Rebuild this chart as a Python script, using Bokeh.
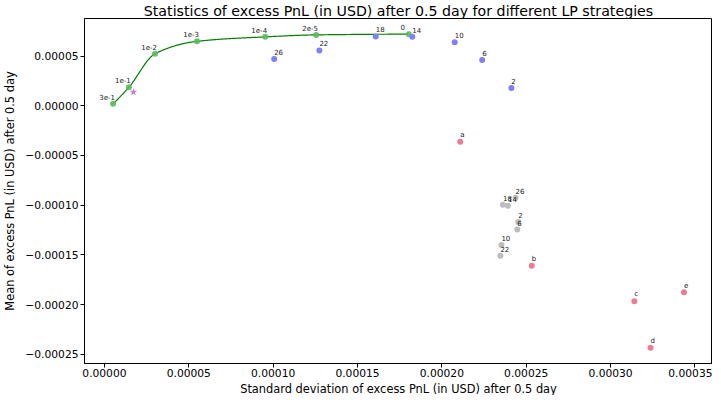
import numpy as np
from bokeh.plotting import figure
from bokeh.models import Range1d, FixedTicker, Title
from bokeh.core.properties import value
from bokeh.embed import file_html
from bokeh.resources import INLINE

# ---------------- data ----------------
green_labels = ["3e-1", "1e-1", "1e-2", "1e-3", "1e-4", "2e-5", "0"]
green_std = [5.1e-6, 1.45e-5, 3.0e-5, 5.49e-5, 9.53e-5, 1.255e-4, 1.804e-4]
green_mean = [2.0e-6, 1.87e-5, 5.24e-5, 6.49e-5, 6.94e-5, 7.14e-5, 7.21e-5]

star_std = [1.72e-5]
star_mean = [1.38e-5]

blue_labels = ["26", "22", "18", "14", "10", "6", "2"]
blue_std = [1.006e-4, 1.274e-4, 1.608e-4, 1.825e-4, 2.076e-4, 2.239e-4, 2.412e-4]
blue_mean = [4.72e-5, 5.57e-5, 6.98e-5, 6.94e-5, 6.39e-5, 4.62e-5, 1.8e-5]

gray_labels = ["18", "14", "26", "2", "6", "10", "22"]
gray_std = [2.362e-4, 2.392e-4, 2.437e-4, 2.453e-4, 2.447e-4, 2.353e-4, 2.347e-4]
gray_mean = [-9.97e-5, -1.007e-4, -9.25e-5, -1.17e-4, -1.246e-4, -1.40e-4, -1.509e-4]

red_labels = ["a", "b", "c", "d", "e"]
red_std = [2.109e-4, 2.533e-4, 3.141e-4, 3.237e-4, 3.435e-4]
red_mean = [-3.61e-5, -1.61e-4, -1.967e-4, -2.436e-4, -1.876e-4]

x_ticks = [0.0, 0.00005, 0.0001, 0.00015, 0.0002, 0.00025, 0.0003, 0.00035]
y_ticks = [-0.00025, -0.0002, -0.00015, -0.0001, -0.00005, 0.0, 0.00005]

TITLE = "Statistics of excess PnL (in USD) after 0.5 day for different LP strategies"
XLABEL = "Standard deviation of excess PnL (in USD) after 0.5 day"
YLABEL = "Mean of excess PnL (in USD) after 0.5 day"


# ---------------- smooth frontier through the green points ----------------
def monotone_curve(x, y, n=300):
    x = np.asarray(x, float)
    y = np.asarray(y, float)
    h = np.diff(x)
    d = np.diff(y) / h
    m = np.zeros_like(y)
    for k in range(1, len(x) - 1):
        if d[k - 1] * d[k] > 0:
            w1 = 2 * h[k] + h[k - 1]
            w2 = h[k] + 2 * h[k - 1]
            m[k] = (w1 + w2) / (w1 / d[k - 1] + w2 / d[k])
    m[0] = ((2 * h[0] + h[1]) * d[0] - h[0] * d[1]) / (h[0] + h[1])
    if m[0] * d[0] <= 0:
        m[0] = 0
    m[-1] = ((2 * h[-1] + h[-2]) * d[-1] - h[-1] * d[-2]) / (h[-1] + h[-2])
    if m[-1] * d[-1] <= 0:
        m[-1] = 0
    xs = np.linspace(x[0], x[-1], n)
    idx = np.clip(np.searchsorted(x, xs) - 1, 0, len(x) - 2)
    t = (xs - x[idx]) / h[idx]
    h00 = 2 * t**3 - 3 * t**2 + 1
    h10 = t**3 - 2 * t**2 + t
    h01 = -2 * t**3 + 3 * t**2
    h11 = t**3 - t**2
    ys = h00 * y[idx] + h10 * h[idx] * m[idx] + h01 * y[idx + 1] + h11 * h[idx] * m[idx + 1]
    return xs, ys


# ---------------- ranges with matplotlib-like 5% margins ----------------
all_x = green_std + star_std + blue_std + gray_std + red_std
all_y = green_mean + star_mean + blue_mean + gray_mean + red_mean
xr = max(all_x) - min(all_x)
yr = max(all_y) - min(all_y)

FONT = "DejaVu Sans"

p = figure(
    width=712, height=395,
    output_backend="svg", toolbar_location=None,
    x_range=Range1d(min(all_x) - 0.05 * xr, max(all_x) + 0.05 * xr),
    y_range=Range1d(min(all_y) - 0.05 * yr, max(all_y) + 0.05 * yr),
    min_border_left=74, min_border_right=0, min_border_top=0, min_border_bottom=0,
)
p.title.text = TITLE
p.title.align = "center"
p.title.text_font = FONT
p.title.text_font_size = "14.2px"
p.title.text_font_style = "normal"
p.title.text_color = "black"
p.title.standoff = 0
p.title.offset = 0

p.xgrid.visible = False
p.ygrid.visible = False
p.outline_line_color = "black"
p.outline_line_width = 1
p.outline_line_alpha = 1
p.background_fill_color = "white"
p.border_fill_color = "white"

for ax in (p.xaxis[0], p.yaxis[0]):
    ax.axis_line_color = "black"
    ax.major_tick_line_color = "black"
    ax.major_tick_in = 0
    ax.major_tick_out = 4
    ax.minor_tick_line_color = None
    ax.major_label_text_font = FONT
    ax.major_label_text_font_size = "10.7px"
    ax.major_label_text_color = "black"
    ax.axis_label_text_font = FONT
    ax.axis_label_text_font_size = "11.4px"
    ax.axis_label_text_font_style = "normal"
    ax.axis_label_text_color = "black"

p.xaxis[0].ticker = FixedTicker(ticks=x_ticks)
p.yaxis[0].ticker = FixedTicker(ticks=y_ticks)
p.xaxis[0].major_label_overrides = {t: f"{t:.5f}".replace("-", "\u2212") for t in x_ticks}
p.yaxis[0].major_label_overrides = {t: f"{t:.5f}".replace("-", "\u2212") for t in y_ticks}
p.xaxis[0].major_label_standoff = 1
p.yaxis[0].axis_label = YLABEL
p.yaxis[0].major_label_standoff = 2
p.yaxis[0].axis_label_standoff = 5

xlab = Title(text=XLABEL, align="center", text_font=FONT, text_font_size="11.4px",
             text_font_style="normal", text_color="black", standoff=0, offset=0)
p.add_layout(xlab, "below")

cx, cy = monotone_curve(green_std, green_mean)
p.line(cx, cy, line_color="#008000", line_width=1.2)

p.scatter(green_std, green_mean, size=6, fill_color="#5cb85c", line_color=None, fill_alpha=0.9)
p.scatter(star_std, star_mean, marker="star", size=8, fill_color="#c47fd4", line_color=None)
p.scatter(blue_std, blue_mean, size=6, fill_color="#7f7ff8", line_color=None)
p.scatter(gray_std, gray_mean, size=6, fill_color="#bdbdbd", line_color=None)
p.scatter(red_std, red_mean, size=6, fill_color="#ea7d93", line_color=None)

lab_kw = dict(text_font=value(FONT), text_font_size="7px", text_color="#222222",
              text_baseline="alphabetic", y_offset=-7)
p.text(green_std, green_mean, text=green_labels, text_align="center", x_offset=-6, **lab_kw)
p.text(blue_std, blue_mean, text=blue_labels, text_align="left", x_offset=0, **lab_kw)
p.text(gray_std, gray_mean, text=gray_labels, text_align="left", x_offset=0, **lab_kw)
p.text(red_std, red_mean, text=red_labels, text_align="left", x_offset=0, **lab_kw)

open("out.html", "w").write(file_html(p, INLINE))
